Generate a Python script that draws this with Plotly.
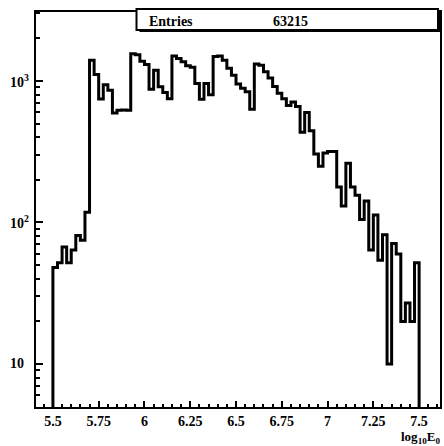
import math
import plotly.graph_objects as go

# ---- histogram data: log10 of shower energy, 0.025-wide bins from 5.5 to 7.5 ----
bin_start = 5.5
bin_width = 0.025
counts = [48, 52, 67, 52, 64, 81, 75, 118,
          1400, 1110, 745, 940, 860, 595, 620, 625, 620,
          1560, 1530, 1380, 1310, 875, 1190, 910, 830, 750,
          1500, 1440, 1370, 1280, 1250, 960, 742, 960, 800,
          1490, 1500, 1400, 1230, 1100, 952, 888, 840, 631,
          1320, 1290, 1160, 1050, 915, 818, 750, 670, 711, 660,
          435, 600, 445, 305, 250, 310, 318, 318, 178, 131, 262, 178, 156,
          105, 142, 64, 113, 54, 82, 10, 71, 60, 20, 27, 20, 52]
entries = 63215

x_tick_vals = [5.5, 5.75, 6.0, 6.25, 6.5, 6.75, 7.0, 7.25, 7.5]
x_tick_labels = ["5.5", "5.75", "6", "6.25", "6.5", "6.75", "7", "7.25", "7.5"]
y_tick_vals = [10, 100, 1000]
y_tick_labels = ["10", "10<sup>2</sup>", "10<sup>3</sup>"]
y_minor_vals = [m * d for d in (1, 10, 100, 1000) for m in range(2, 10)]

# ---- page geometry ----
W, H = 444, 446
ML, MR, MT, MB = 36, 2, 12, 39
PW, PH = W - ML - MR, H - MT - MB
X_RANGE = [5.4076, 7.6141]
Y_RANGE = [0.696, 3.4876]

SERIF = "Liberation Serif"


def px_x(px):
    return (px - ML) / PW


def px_y(py):
    return (H - MB - py) / PH


# step outline of the histogram, dropping to the floor at both ends
edges = [bin_start + i * bin_width for i in range(len(counts) + 1)]
floor = 1.0
xs = [edges[0]] + edges[:-1] + [edges[-1], edges[-1]]
ys = [floor] + counts + [counts[-1], floor]

fig = go.Figure()
fig.add_trace(go.Scatter(
    x=xs, y=ys, mode="lines",
    line=dict(color="black", width=3, shape="hv"),
    hoverinfo="skip", showlegend=False,
))

fig.update_xaxes(
    range=X_RANGE, showgrid=False, zeroline=False,
    showline=True, linecolor="black", linewidth=2, mirror=True,
    tickmode="array", tickvals=x_tick_vals, ticktext=x_tick_labels,
    ticks="inside", ticklen=6, tickwidth=1.5, tickcolor="black",
    minor=dict(tickmode="linear", tick0=5.5, dtick=0.05, ticks="inside",
               ticklen=3, tickwidth=1.5, tickcolor="black"),
    tickfont=dict(family=SERIF, size=14, color="black", weight="bold"),
)
fig.update_yaxes(
    type="log", range=Y_RANGE, showgrid=False, zeroline=False,
    showline=True, linecolor="black", linewidth=2, mirror=True,
    tickmode="array", tickvals=y_tick_vals, showticklabels=False,
    ticks="inside", ticklen=7, tickwidth=1.5, tickcolor="black",
    minor=dict(tickmode="array", tickvals=y_minor_vals, ticks="inside",
               ticklen=4, tickwidth=1.5, tickcolor="black"),
)

annotations = []
# decade labels on the y axis
for v, lab in zip(y_tick_vals, y_tick_labels):
    annotations.append(dict(
        x=px_x(8), xref="paper", y=math.log10(v), yref="y",
        text=lab, showarrow=False, xanchor="left", yanchor="middle",
        font=dict(family=SERIF, size=14, color="black", weight="bold"),
    ))
# axis title
annotations.append(dict(
    x=px_x(444), xref="paper", y=px_y(437), yref="paper",
    text="log<sub>10</sub>E<sub>0</sub>", showarrow=False,
    xanchor="right", yanchor="middle",
    font=dict(family=SERIF, size=13, color="black", weight="bold"),
))
# statistics box text
annotations.append(dict(
    x=px_x(148), xref="paper", y=px_y(21), yref="paper",
    text="Entries", showarrow=False, xanchor="left", yanchor="middle",
    font=dict(family=SERIF, size=14, color="black", weight="bold"),
))
annotations.append(dict(
    x=px_x(292), xref="paper", y=px_y(21), yref="paper",
    text=str(entries), showarrow=False, xanchor="center", yanchor="middle",
    font=dict(family=SERIF, size=14, color="black", weight="bold"),
))

shapes = [
    # shadow of the statistics box
    dict(type="rect", xref="paper", yref="paper",
         x0=px_x(140), x1=px_x(443), y0=px_y(32), y1=px_y(12),
         fillcolor="black", line=dict(width=0)),
    # statistics box
    dict(type="rect", xref="paper", yref="paper",
         x0=px_x(137), x1=px_x(440), y0=px_y(30), y1=px_y(9),
         fillcolor="white", line=dict(color="black", width=2)),
]

fig.update_layout(
    width=W, height=H,
    margin=dict(l=ML, r=MR, t=MT, b=MB),
    paper_bgcolor="white", plot_bgcolor="white",
    annotations=annotations, shapes=shapes,
    showlegend=False,
)

fig.write_html("out.html")
